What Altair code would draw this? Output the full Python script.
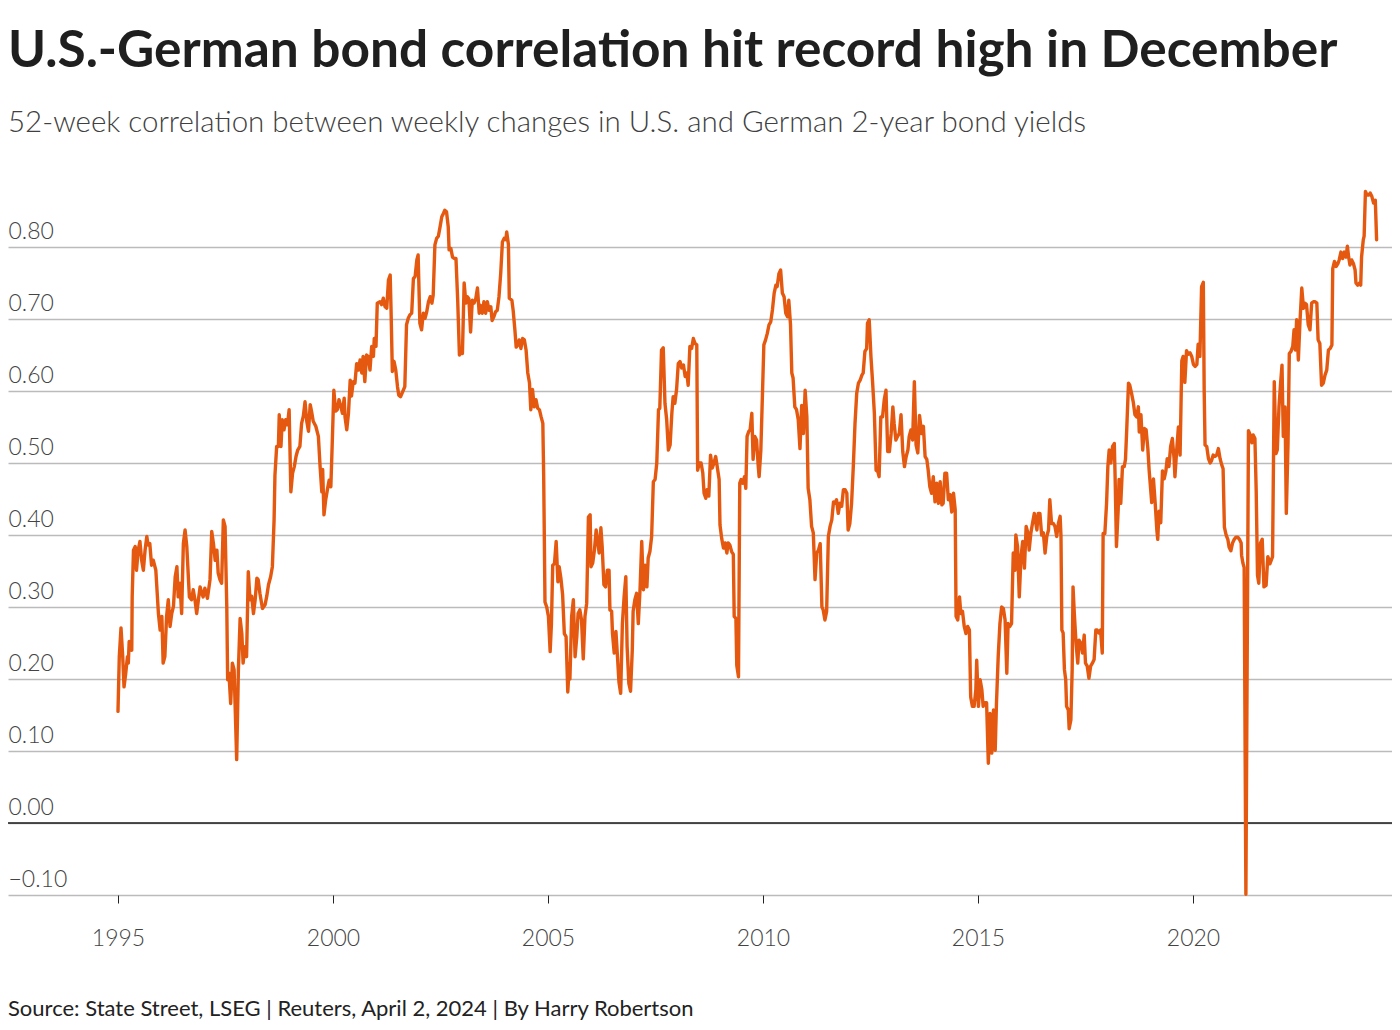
import altair as alt
import pandas as pd

TITLE = "U.S.-German bond correlation hit record high in December"
SUBTITLE = "52-week correlation between weekly changes in U.S. and German 2-year bond yields"
SOURCE = "Source: State Street, LSEG | Reuters, April 2, 2024 | By Harry Robertson"

x_ticks = [1995, 2000, 2005, 2010, 2015, 2020]
y_ticks = [-0.1, 0.0, 0.1, 0.2, 0.3, 0.4, 0.5, 0.6, 0.7, 0.8]

years = [
    1995.00, 1995.03, 1995.07, 1995.11, 1995.14, 1995.18, 1995.22, 1995.24, 1995.26, 1995.32,
    1995.33, 1995.36, 1995.40, 1995.43, 1995.47, 1995.51, 1995.55, 1995.59, 1995.63, 1995.67,
    1995.70, 1995.74, 1995.78, 1995.82, 1995.88, 1995.94, 1995.98, 1996.02, 1996.05, 1996.09,
    1996.13, 1996.17, 1996.21, 1996.25, 1996.29, 1996.33, 1996.37, 1996.40, 1996.44, 1996.48,
    1996.52, 1996.56, 1996.60, 1996.66, 1996.71, 1996.75, 1996.79, 1996.83, 1996.87, 1996.91,
    1996.95, 1996.98, 1997.02, 1997.08, 1997.14, 1997.18, 1997.22, 1997.26, 1997.30, 1997.33,
    1997.37, 1997.41, 1997.45, 1997.49, 1997.53, 1997.55, 1997.58, 1997.62, 1997.66, 1997.70,
    1997.76, 1997.80, 1997.84, 1997.88, 1997.91, 1997.95, 1997.99, 1998.03, 1998.07, 1998.11,
    1998.15, 1998.19, 1998.23, 1998.26, 1998.30, 1998.36, 1998.42, 1998.46, 1998.50, 1998.55,
    1998.59, 1998.63, 1998.65, 1998.69, 1998.73, 1998.75, 1998.79, 1998.82, 1998.86, 1998.90,
    1998.94, 1998.98, 1999.02, 1999.06, 1999.10, 1999.14, 1999.18, 1999.23, 1999.27, 1999.31,
    1999.35, 1999.39, 1999.43, 1999.47, 1999.50, 1999.54, 1999.60, 1999.66, 1999.70, 1999.74,
    1999.76, 1999.79, 1999.83, 1999.87, 1999.91, 1999.95, 1999.98, 2000.02, 2000.06, 2000.10,
    2000.14, 2000.18, 2000.22, 2000.26, 2000.28, 2000.32, 2000.36, 2000.40, 2000.43, 2000.47,
    2000.51, 2000.55, 2000.59, 2000.63, 2000.67, 2000.70, 2000.74, 2000.78, 2000.82, 2000.86,
    2000.90, 2000.94, 2000.96, 2001.00, 2001.03, 2001.09, 2001.13, 2001.17, 2001.21, 2001.25,
    2001.29, 2001.33, 2001.35, 2001.38, 2001.42, 2001.46, 2001.50, 2001.53, 2001.57, 2001.62,
    2001.67, 2001.71, 2001.75, 2001.79, 2001.83, 2001.87, 2001.91, 2001.95, 2001.98, 2002.02,
    2002.06, 2002.10, 2002.14, 2002.18, 2002.22, 2002.26, 2002.30, 2002.33, 2002.37, 2002.41,
    2002.45, 2002.49, 2002.53, 2002.57, 2002.60, 2002.64, 2002.68, 2002.70, 2002.74, 2002.78,
    2002.82, 2002.86, 2002.90, 2002.94, 2002.95, 2003.01, 2003.05, 2003.09, 2003.12, 2003.16,
    2003.20, 2003.24, 2003.28, 2003.32, 2003.36, 2003.40, 2003.43, 2003.47, 2003.51, 2003.55,
    2003.59, 2003.63, 2003.67, 2003.70, 2003.74, 2003.78, 2003.82, 2003.86, 2003.90, 2003.94,
    2003.98, 2004.02, 2004.04, 2004.08, 2004.10, 2004.16, 2004.19, 2004.23, 2004.26, 2004.30,
    2004.33, 2004.37, 2004.41, 2004.45, 2004.49, 2004.53, 2004.57, 2004.60, 2004.64, 2004.68,
    2004.72, 2004.76, 2004.80, 2004.84, 2004.88, 2004.90, 2004.93, 2004.97, 2005.01, 2005.05,
    2005.08, 2005.11, 2005.15, 2005.19, 2005.23, 2005.26, 2005.30, 2005.34, 2005.38, 2005.42,
    2005.46, 2005.50, 2005.51, 2005.55, 2005.59, 2005.63, 2005.67, 2005.70, 2005.74, 2005.78,
    2005.82, 2005.86, 2005.90, 2005.94, 2005.98, 2006.00, 2006.04, 2006.08, 2006.12, 2006.16,
    2006.19, 2006.23, 2006.26, 2006.30, 2006.34, 2006.38, 2006.42, 2006.44, 2006.48, 2006.50,
    2006.54, 2006.58, 2006.62, 2006.65, 2006.69, 2006.73, 2006.77, 2006.81, 2006.84, 2006.88,
    2006.92, 2006.96, 2006.98, 2007.02, 2007.06, 2007.10, 2007.14, 2007.18, 2007.22, 2007.26,
    2007.30, 2007.33, 2007.37, 2007.41, 2007.45, 2007.49, 2007.53, 2007.57, 2007.60, 2007.64,
    2007.68, 2007.72, 2007.76, 2007.80, 2007.84, 2007.88, 2007.91, 2007.95, 2007.99, 2008.03,
    2008.07, 2008.11, 2008.15, 2008.19, 2008.23, 2008.26, 2008.30, 2008.34, 2008.38, 2008.42,
    2008.46, 2008.48, 2008.52, 2008.56, 2008.60, 2008.63, 2008.67, 2008.70, 2008.74, 2008.78,
    2008.82, 2008.86, 2008.90, 2008.94, 2008.98, 2009.00, 2009.04, 2009.08, 2009.12, 2009.16,
    2009.19, 2009.23, 2009.27, 2009.31, 2009.33, 2009.37, 2009.39, 2009.43, 2009.46, 2009.49,
    2009.53, 2009.57, 2009.60, 2009.63, 2009.67, 2009.70, 2009.74, 2009.77, 2009.81, 2009.85,
    2009.89, 2009.91, 2009.95, 2009.99, 2010.02, 2010.06, 2010.10, 2010.14, 2010.18, 2010.22,
    2010.26, 2010.30, 2010.33, 2010.37, 2010.41, 2010.45, 2010.49, 2010.53, 2010.57, 2010.60,
    2010.64, 2010.67, 2010.70, 2010.74, 2010.78, 2010.82, 2010.86, 2010.90, 2010.94, 2010.98,
    2011.02, 2011.05, 2011.09, 2011.13, 2011.17, 2011.21, 2011.25, 2011.29, 2011.33, 2011.37,
    2011.40, 2011.44, 2011.48, 2011.52, 2011.56, 2011.60, 2011.64, 2011.67, 2011.71, 2011.75,
    2011.79, 2011.83, 2011.87, 2011.91, 2011.95, 2011.98, 2012.02, 2012.06, 2012.10, 2012.14,
    2012.18, 2012.22, 2012.26, 2012.30, 2012.33, 2012.37, 2012.41, 2012.43, 2012.47, 2012.51,
    2012.55, 2012.59, 2012.63, 2012.67, 2012.70, 2012.74, 2012.78, 2012.82, 2012.86, 2012.90,
    2012.94, 2012.98, 2013.02, 2013.05, 2013.09, 2013.13, 2013.17, 2013.21, 2013.25, 2013.29,
    2013.33, 2013.37, 2013.40, 2013.44, 2013.48, 2013.52, 2013.56, 2013.60, 2013.64, 2013.69,
    2013.73, 2013.77, 2013.81, 2013.84, 2013.88, 2013.92, 2013.96, 2014.00, 2014.04, 2014.08,
    2014.12, 2014.16, 2014.19, 2014.23, 2014.27, 2014.31, 2014.35, 2014.39, 2014.43, 2014.47,
    2014.49, 2014.53, 2014.57, 2014.60, 2014.64, 2014.68, 2014.72, 2014.76, 2014.80, 2014.83,
    2014.87, 2014.91, 2014.95, 2014.97, 2015.01, 2015.05, 2015.09, 2015.12, 2015.16, 2015.20,
    2015.24, 2015.28, 2015.32, 2015.36, 2015.40, 2015.43, 2015.47, 2015.51, 2015.55, 2015.59,
    2015.63, 2015.67, 2015.70, 2015.74, 2015.78, 2015.82, 2015.86, 2015.88, 2015.92, 2015.96,
    2016.00, 2016.04, 2016.08, 2016.12, 2016.16, 2016.19, 2016.23, 2016.27, 2016.31, 2016.37,
    2016.40, 2016.44, 2016.48, 2016.52, 2016.56, 2016.60, 2016.64, 2016.67, 2016.71, 2016.75,
    2016.79, 2016.83, 2016.87, 2016.91, 2016.93, 2016.95, 2016.98, 2017.01, 2017.04, 2017.06,
    2017.10, 2017.12, 2017.16, 2017.19, 2017.21, 2017.24, 2017.28, 2017.32, 2017.35, 2017.39,
    2017.43, 2017.47, 2017.50, 2017.54, 2017.58, 2017.62, 2017.66, 2017.70, 2017.74, 2017.77,
    2017.81, 2017.85, 2017.89, 2017.91, 2017.95, 2017.99, 2018.02, 2018.05, 2018.09, 2018.13,
    2018.17, 2018.19, 2018.22, 2018.26, 2018.28, 2018.32, 2018.36, 2018.40, 2018.43, 2018.46,
    2018.50, 2018.53, 2018.57, 2018.61, 2018.65, 2018.69, 2018.73, 2018.75, 2018.79, 2018.83,
    2018.87, 2018.91, 2018.95, 2018.98, 2019.04, 2019.08, 2019.12, 2019.16, 2019.18, 2019.21,
    2019.25, 2019.29, 2019.33, 2019.37, 2019.40, 2019.44, 2019.48, 2019.52, 2019.56, 2019.58,
    2019.62, 2019.66, 2019.70, 2019.74, 2019.77, 2019.81, 2019.85, 2019.89, 2019.93, 2019.97,
    2020.01, 2020.05, 2020.09, 2020.12, 2020.16, 2020.20, 2020.24, 2020.26, 2020.28, 2020.32,
    2020.36, 2020.40, 2020.43, 2020.47, 2020.51, 2020.55, 2020.59, 2020.63, 2020.67, 2020.70,
    2020.73, 2020.77, 2020.81, 2020.84, 2020.88, 2020.92, 2020.96, 2021.00, 2021.04, 2021.08,
    2021.12, 2021.13, 2021.16, 2021.19, 2021.23, 2021.29, 2021.33, 2021.37, 2021.40, 2021.44,
    2021.47, 2021.50, 2021.53, 2021.57, 2021.61, 2021.65, 2021.70, 2021.74, 2021.79, 2021.85,
    2021.89, 2021.93, 2021.96, 2022.00, 2022.04, 2022.07, 2022.10, 2022.14, 2022.17, 2022.21,
    2022.24, 2022.28, 2022.32, 2022.35, 2022.38, 2022.41, 2022.45, 2022.49, 2022.53, 2022.57,
    2022.60, 2022.64, 2022.68, 2022.72, 2022.76, 2022.80, 2022.84, 2022.88, 2022.91, 2022.95,
    2022.99, 2023.03, 2023.07, 2023.11, 2023.15, 2023.19, 2023.23, 2023.25, 2023.29, 2023.33,
    2023.37, 2023.40, 2023.44, 2023.48, 2023.52, 2023.56, 2023.59, 2023.62, 2023.65, 2023.69,
    2023.73, 2023.77, 2023.79, 2023.83, 2023.87, 2023.90, 2023.92, 2023.96, 2023.98, 2024.01,
    2024.05, 2024.09, 2024.12, 2024.16, 2024.20, 2024.24, 2024.27,
]

corr = [
    0.155, 0.231, 0.271, 0.231, 0.189, 0.208, 0.231, 0.222, 0.252, 0.240,
    0.314, 0.379, 0.384, 0.351, 0.379, 0.391, 0.365, 0.351, 0.379, 0.398,
    0.386, 0.388, 0.358, 0.365, 0.351, 0.291, 0.268, 0.287, 0.222, 0.231,
    0.287, 0.310, 0.273, 0.291, 0.301, 0.342, 0.356, 0.314, 0.333, 0.291,
    0.388, 0.407, 0.384, 0.314, 0.310, 0.324, 0.310, 0.291, 0.310, 0.328,
    0.319, 0.314, 0.326, 0.312, 0.338, 0.405, 0.388, 0.365, 0.379, 0.347,
    0.338, 0.333, 0.421, 0.412, 0.300, 0.199, 0.208, 0.166, 0.222, 0.213,
    0.088, 0.213, 0.284, 0.263, 0.222, 0.245, 0.231, 0.349, 0.310, 0.315,
    0.291, 0.310, 0.340, 0.338, 0.319, 0.298, 0.303, 0.315, 0.331, 0.342,
    0.356, 0.421, 0.483, 0.523, 0.523, 0.567, 0.523, 0.560, 0.546, 0.560,
    0.553, 0.574, 0.460, 0.486, 0.495, 0.509, 0.518, 0.523, 0.555, 0.565,
    0.585, 0.558, 0.544, 0.581, 0.572, 0.558, 0.551, 0.537, 0.495, 0.460,
    0.491, 0.428, 0.449, 0.463, 0.476, 0.467, 0.523, 0.601, 0.572, 0.574,
    0.588, 0.579, 0.569, 0.590, 0.564, 0.546, 0.569, 0.615, 0.593, 0.613,
    0.611, 0.638, 0.629, 0.643, 0.625, 0.648, 0.613, 0.650, 0.648, 0.629,
    0.662, 0.648, 0.673, 0.662, 0.722, 0.724, 0.720, 0.729, 0.717, 0.715,
    0.754, 0.761, 0.713, 0.627, 0.641, 0.629, 0.606, 0.594, 0.592, 0.599,
    0.606, 0.692, 0.701, 0.706, 0.708, 0.756, 0.759, 0.782, 0.789, 0.694,
    0.685, 0.708, 0.701, 0.710, 0.724, 0.731, 0.722, 0.733, 0.803, 0.812,
    0.815, 0.828, 0.842, 0.847, 0.851, 0.849, 0.828, 0.796, 0.798, 0.786,
    0.784, 0.784, 0.726, 0.650, 0.652, 0.652, 0.750, 0.722, 0.731, 0.728,
    0.682, 0.726, 0.722, 0.728, 0.743, 0.708, 0.719, 0.708, 0.724, 0.708,
    0.724, 0.712, 0.717, 0.698, 0.703, 0.710, 0.712, 0.731, 0.763, 0.807,
    0.812, 0.810, 0.821, 0.803, 0.729, 0.726, 0.712, 0.685, 0.661, 0.664,
    0.671, 0.659, 0.673, 0.671, 0.657, 0.625, 0.611, 0.574, 0.602, 0.578,
    0.588, 0.576, 0.574, 0.564, 0.555, 0.481, 0.307, 0.300, 0.287, 0.238,
    0.277, 0.358, 0.360, 0.391, 0.335, 0.356, 0.340, 0.317, 0.263, 0.259,
    0.182, 0.222, 0.200, 0.287, 0.310, 0.231, 0.259, 0.291, 0.296, 0.282,
    0.228, 0.287, 0.305, 0.425, 0.428, 0.356, 0.361, 0.379, 0.407, 0.389,
    0.375, 0.410, 0.384, 0.331, 0.328, 0.351, 0.351, 0.296, 0.294, 0.263,
    0.236, 0.266, 0.227, 0.196, 0.180, 0.277, 0.314, 0.342, 0.245, 0.194,
    0.183, 0.240, 0.294, 0.310, 0.319, 0.277, 0.324, 0.391, 0.324, 0.358,
    0.328, 0.368, 0.377, 0.398, 0.474, 0.477, 0.500, 0.574, 0.576, 0.657,
    0.660, 0.583, 0.560, 0.518, 0.525, 0.569, 0.592, 0.583, 0.602, 0.638,
    0.641, 0.632, 0.636, 0.620, 0.625, 0.608, 0.662, 0.659, 0.673, 0.666,
    0.664, 0.490, 0.500, 0.500, 0.486, 0.458, 0.451, 0.463, 0.454, 0.511,
    0.493, 0.500, 0.509, 0.493, 0.477, 0.414, 0.395, 0.382, 0.389, 0.375,
    0.389, 0.386, 0.377, 0.373, 0.287, 0.284, 0.219, 0.203, 0.472, 0.477,
    0.472, 0.481, 0.465, 0.537, 0.544, 0.546, 0.569, 0.505, 0.537, 0.532,
    0.495, 0.481, 0.518, 0.601, 0.664, 0.671, 0.680, 0.692, 0.696, 0.713,
    0.736, 0.747, 0.745, 0.763, 0.768, 0.736, 0.731, 0.708, 0.703, 0.726,
    0.692, 0.625, 0.618, 0.578, 0.574, 0.560, 0.520, 0.580, 0.541, 0.601,
    0.564, 0.465, 0.449, 0.412, 0.403, 0.338, 0.375, 0.379, 0.388, 0.300,
    0.296, 0.282, 0.294, 0.398, 0.412, 0.421, 0.446, 0.444, 0.449, 0.430,
    0.444, 0.440, 0.463, 0.463, 0.458, 0.407, 0.416, 0.444, 0.495, 0.555,
    0.597, 0.611, 0.615, 0.622, 0.625, 0.655, 0.659, 0.694, 0.699, 0.648,
    0.611, 0.569, 0.490, 0.488, 0.481, 0.564, 0.564, 0.588, 0.601, 0.516,
    0.516, 0.541, 0.578, 0.555, 0.532, 0.537, 0.541, 0.567, 0.516, 0.495,
    0.509, 0.518, 0.537, 0.546, 0.532, 0.613, 0.525, 0.514, 0.566, 0.541,
    0.551, 0.509, 0.505, 0.491, 0.467, 0.458, 0.481, 0.446, 0.472, 0.444,
    0.474, 0.442, 0.444, 0.486, 0.486, 0.449, 0.456, 0.432, 0.458, 0.435,
    0.287, 0.282, 0.314, 0.291, 0.294, 0.273, 0.263, 0.273, 0.268, 0.175,
    0.162, 0.162, 0.185, 0.226, 0.162, 0.199, 0.185, 0.162, 0.167, 0.167,
    0.083, 0.152, 0.097, 0.157, 0.101, 0.167, 0.231, 0.277, 0.300, 0.298,
    0.282, 0.208, 0.277, 0.273, 0.277, 0.375, 0.351, 0.400, 0.384, 0.314,
    0.370, 0.391, 0.354, 0.412, 0.403, 0.379, 0.403, 0.417, 0.430, 0.407,
    0.430, 0.430, 0.400, 0.403, 0.375, 0.398, 0.407, 0.449, 0.416, 0.416,
    0.412, 0.398, 0.416, 0.426, 0.398, 0.268, 0.264, 0.213, 0.199, 0.162,
    0.157, 0.131, 0.143, 0.213, 0.328, 0.291, 0.250, 0.222, 0.254, 0.250,
    0.236, 0.261, 0.222, 0.218, 0.201, 0.218, 0.222, 0.227, 0.268, 0.268,
    0.264, 0.268, 0.236, 0.402, 0.402, 0.444, 0.495, 0.518, 0.500, 0.523,
    0.527, 0.477, 0.384, 0.435, 0.477, 0.444, 0.495, 0.495, 0.505, 0.548,
    0.611, 0.608, 0.597, 0.585, 0.567, 0.564, 0.578, 0.543, 0.567, 0.518,
    0.548, 0.546, 0.520, 0.490, 0.445, 0.478, 0.445, 0.406, 0.394, 0.433,
    0.417, 0.489, 0.478, 0.489, 0.506, 0.495, 0.523, 0.534, 0.506, 0.481,
    0.517, 0.550, 0.511, 0.642, 0.648, 0.612, 0.656, 0.651, 0.653, 0.648,
    0.637, 0.634, 0.637, 0.665, 0.648, 0.745, 0.751, 0.601, 0.525, 0.523,
    0.506, 0.500, 0.503, 0.511, 0.509, 0.511, 0.520, 0.506, 0.497, 0.492,
    0.411, 0.400, 0.394, 0.383, 0.378, 0.389, 0.394, 0.397, 0.397, 0.394,
    0.389, 0.372, 0.361, 0.355, -0.099, 0.545, 0.539, 0.528, 0.539, 0.534,
    0.461, 0.344, 0.333, 0.389, 0.394, 0.328, 0.330, 0.370, 0.360, 0.370,
    0.613, 0.513, 0.518, 0.578, 0.613, 0.636, 0.537, 0.578, 0.430, 0.527,
    0.652, 0.655, 0.662, 0.685, 0.657, 0.699, 0.643, 0.699, 0.743, 0.715,
    0.722, 0.720, 0.692, 0.685, 0.722, 0.724, 0.724, 0.722, 0.671, 0.666,
    0.608, 0.611, 0.622, 0.629, 0.657, 0.659, 0.664, 0.770, 0.780, 0.773,
    0.777, 0.782, 0.793, 0.784, 0.793, 0.786, 0.801, 0.786, 0.775, 0.782,
    0.777, 0.768, 0.750, 0.747, 0.750, 0.747, 0.786, 0.810, 0.815, 0.877,
    0.872, 0.872, 0.875, 0.870, 0.861, 0.865, 0.810,
]

df = pd.DataFrame({"year": years, "corr": corr})

FONT = "Lato, sans-serif"
LINE_COLOR = "#E4590F"

x_enc = alt.X(
    "year:Q",
    scale=alt.Scale(domain=[1992.442, 2024.628], nice=False, zero=False),
    axis=alt.Axis(
        values=x_ticks, format="d", title=None, grid=False, domain=False,
        ticks=True, tickSize=8, tickColor="#222222", tickWidth=1,
        labelFont=FONT, labelFontSize=23, labelFontWeight=300, labelColor="#444444",
        labelBaseline="alphabetic", labelPadding=42,
    ),
)
y_enc = alt.Y(
    "corr:Q",
    scale=alt.Scale(domain=[-0.1, 0.9], nice=False, zero=False),
    axis=alt.Axis(
        values=y_ticks, format=".2f", title=None, grid=True, gridColor="#bbbbbb",
        gridWidth=1.3, domain=False, ticks=False, labelAlign="left",
        labelBaseline="alphabetic", labelPadding=0, labelOffset=-9,
        labelFont=FONT, labelFontSize=23, labelFontWeight=300, labelColor="#444444",
    ),
)

line = alt.Chart(df).mark_line(
    color=LINE_COLOR, strokeWidth=3.4, strokeJoin="round", strokeCap="round"
).encode(x=x_enc, y=y_enc)

zero = alt.Chart(pd.DataFrame({"z": [0.0]})).mark_rule(
    color="#1a1a1a", strokeWidth=1.5
).encode(y=alt.Y("z:Q"))

title_t = alt.Chart(pd.DataFrame({"t": [TITLE]})).mark_text(
    align="left", baseline="alphabetic", font=FONT, fontSize=51.4,
    fontWeight="bold", color="#1f1f1f"
).encode(x=alt.value(0), y=alt.value(-108), text="t:N")

sub_t = alt.Chart(pd.DataFrame({"t": [SUBTITLE]})).mark_text(
    align="left", baseline="alphabetic", font=FONT, fontSize=29.5,
    fontWeight=300, color="#404040"
).encode(x=alt.value(0), y=alt.value(-43), text="t:N")

src_t = alt.Chart(pd.DataFrame({"t": [SOURCE]})).mark_text(
    align="left", baseline="alphabetic", font=FONT, fontSize=22,
    fontWeight="normal", color="#222222"
).encode(x=alt.value(0), y=alt.value(841), text="t:N")

chart = alt.layer(zero, line, title_t, sub_t, src_t).properties(
    width=1384,
    height=720,
    autosize=alt.AutoSizeParams(type="none"),
    padding={"left": 0, "top": 167, "right": 0, "bottom": 127},
).configure_view(stroke=None)

chart.save("out.html", embed_options={"renderer": "svg", "actions": False})
